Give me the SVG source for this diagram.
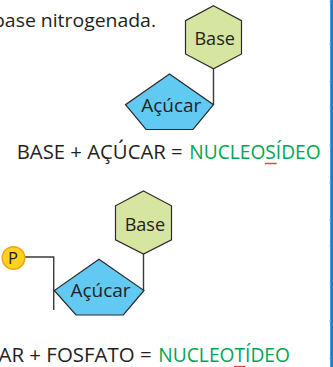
<svg xmlns="http://www.w3.org/2000/svg" width="333" height="367" viewBox="0 0 333 367">
<style>
text{font-family:"Open Sans","Noto Sans","Liberation Sans",sans-serif;fill:#231f20}
.hex{fill:#d6e5a0;stroke:#2b2b2b;stroke-width:1.2;stroke-linejoin:miter}
.pent{fill:#62caf2;stroke:#2b2b2b;stroke-width:1.2;stroke-linejoin:miter}
.lbl{font-size:19px;text-anchor:middle}
.eq{font-size:20px}
.green{fill:#00a651}
.conn{fill:none;stroke:#3a3a3a;stroke-width:1.4}
.ul{stroke:#e8434c;stroke-width:1.5}
</style>
<rect width="333" height="367" fill="#ffffff"/>
<g id="bar">
<rect x="330.2" y="0" width="2.8" height="367" fill="#1b80cc"/>
<g stroke="#9fc2e0" stroke-width="1">
<line x1="329" y1="1.7" x2="330.5" y2="1.7"/>
<line x1="329" y1="44" x2="330.5" y2="44"/>
<line x1="329" y1="81.7" x2="330.5" y2="81.7"/>
<line x1="329" y1="107.3" x2="330.5" y2="107.3"/>
<line x1="329" y1="145" x2="330.5" y2="145"/>
<line x1="329" y1="182.7" x2="330.5" y2="182.7"/>
<line x1="329" y1="220" x2="330.5" y2="220"/>
<line x1="329" y1="246" x2="330.5" y2="246"/>
<line x1="329" y1="283.3" x2="330.5" y2="283.3"/>
<line x1="329" y1="320.7" x2="330.5" y2="320.7"/>
<line x1="329" y1="358.3" x2="330.5" y2="358.3"/>
</g>
</g>
<text x="-7" y="26.7" font-size="19" textLength="163" lengthAdjust="spacingAndGlyphs">base nitrogenada.</text>
<g id="connectors">
<line class="conn" x1="213.5" y1="68.7" x2="213.5" y2="104.7"/>
<line class="conn" x1="143.5" y1="254" x2="143.5" y2="290.5"/>
<polyline class="conn" points="24.8,257 53.7,257 53.7,310"/>
</g>
<g id="base1">
<polygon class="hex" points="213.5,5.7 241.5,20.6 241.5,54 213.5,68.7 185.5,54 185.5,20.6"/>
<text class="lbl" x="214.7" y="45" textLength="40.5" lengthAdjust="spacingAndGlyphs">Base</text>
</g>
<g id="acucar1">
<polygon class="pent" points="169.5,74 213.5,104.7 193,129.5 146,129.5 125.5,104.7"/>
<text class="lbl" x="171.3" y="111.7">Açúcar</text>
</g>
<g id="eq1">
<text class="eq" x="16.7" y="159.3" textLength="166" lengthAdjust="spacingAndGlyphs">BASE + AÇÚCAR =</text>
<text class="eq green" x="189.3" y="159.3" textLength="131.4" lengthAdjust="spacingAndGlyphs">NUCLEOSÍDEO</text>
<line class="ul" x1="265" y1="163.5" x2="276.7" y2="163.5"/>
</g>
<g id="base2">
<polygon class="hex" points="143.5,191 171.5,205.8 171.5,239.8 143.5,254 115.5,239.8 115.5,205.8"/>
<text class="lbl" x="144.9" y="230.7" textLength="40.5" lengthAdjust="spacingAndGlyphs">Base</text>
</g>
<g id="acucar2">
<polygon class="pent" points="99,259.3 144,290.5 123.3,315 76,315 54.3,290.5"/>
<text class="lbl" x="100.5" y="297.2">Açúcar</text>
</g>
<g id="fosfato">
<circle cx="13.5" cy="258" r="11.3" fill="#ffd21f" stroke="#f5a31a" stroke-width="1.5"/>
<text x="13" y="264" font-size="16.5" text-anchor="middle">P</text>
</g>
<g id="eq2">
<text class="eq" x="-1.5" y="361.7" textLength="153.2" lengthAdjust="spacingAndGlyphs">AR + FOSFATO =</text>
<text class="eq green" x="158.3" y="361.7" textLength="131.7" lengthAdjust="spacingAndGlyphs">NUCLEOTÍDEO</text>
<line class="ul" x1="234" y1="366.6" x2="245.5" y2="366.6"/>
</g>
</svg>
